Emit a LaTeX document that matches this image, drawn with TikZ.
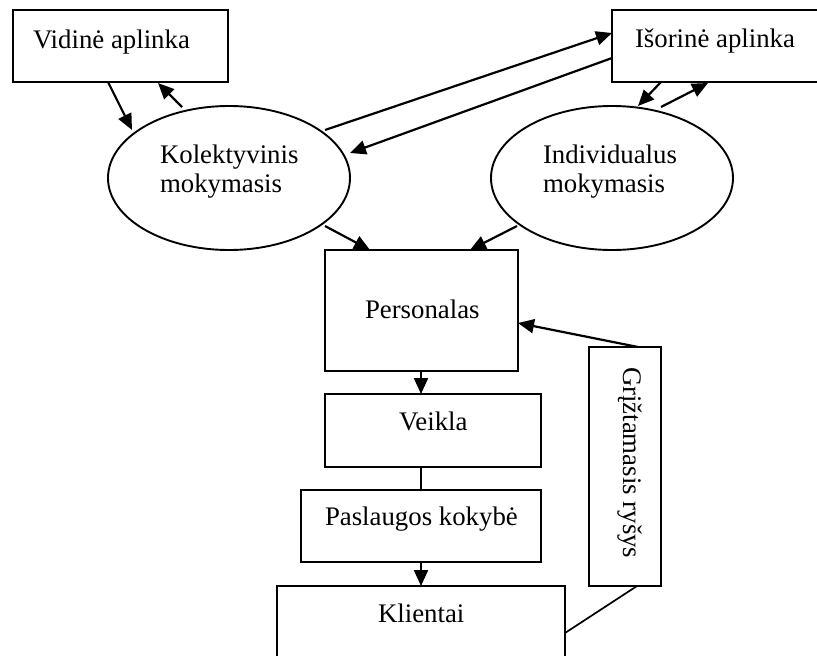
\documentclass[tikz,border=0pt]{standalone}
\usepackage{fontspec}
\setmainfont{Liberation Serif}
\usetikzlibrary{arrows.meta,shapes.geometric,calc}
\begin{document}
\begin{tikzpicture}[x=1pt,y=-1pt,
  every node/.style={inner sep=0pt,outer sep=0pt},
  box/.style={draw,line width=1.9pt,rectangle,minimum width=#1},
  oval/.style={draw,line width=1.9pt,ellipse,minimum width=242pt,minimum height=144pt},
  lbl/.style={font=\fontsize{26.8}{29}\selectfont,anchor=base west},
  flow/.style={line width=2.2pt,-{Triangle[length=16pt,width=14pt]}},
  link/.style={line width=1.7pt}]
\useasboundingbox (0,0) rectangle (817,656);
\clip (0,0) rectangle (817,656);
\fill[white] (0,0) rectangle (817,656);

% boxes and ellipses
\node[box=215pt,minimum height=72pt] (vid) at (120.5,46) {};
\node[box=250pt,minimum height=72pt] (isor) at (737,46) {};
\node[oval] (kol) at (229,178) {};
\node[oval] (ind) at (612,178) {};
\node[box=193pt,minimum height=121pt] (pers) at (421.5,310.5) {};
\node[box=216pt,minimum height=73pt] (veik) at (433,430.5) {};
\node[box=240pt,minimum height=72pt] (pasl) at (421,526) {};
\node[box=288pt,minimum height=114pt] (klie) at (421,643) {};
\node[box=72pt,minimum height=239pt] (grz) at (625,466.5) {};

% labels
\node[lbl] (vidT) at (33,48) {Vidinė aplinka};
\node[lbl] (isorT) at (635,47) {Išorinė aplinka};
\node[lbl] (kolT1) at (160,163) {Kolektyvinis};
\node[lbl] (kolT2) at (160,192) {mokymasis};
\node[lbl] (indT1) at (543,163) {Individualus};
\node[lbl] (indT2) at (543,192) {mokymasis};
\node[lbl] (persT) at (365,318) {Personalas};
\node[lbl] (veikT) at (399,430) {Veikla};
\node[lbl] (paslT) at (325,525) {Paslaugos kokybė};
\node[lbl] (klieT) at (378,622) {Klientai};
\node[lbl,rotate=-90] (grzT) at (623,367) {Grįžtamasis ryšys};

% connectors
\draw[flow] ($(vid.south west)+(95,0)$) -- ($(kol.center)+(-97,-48)$);
\draw[flow] ($(kol.center)+(-47,-71)$) -- ($(vid.south west)+(145,1)$);
\draw[flow] ($(kol.center)+(96,-48)$) -- ($(isor.north west)+(0,23)$);
\draw[flow] ($(isor.north west)+(0,48)$) -- ($(kol.center)+(121,-25)$);
\draw[flow] ($(isor.south west)+(49,0)$) -- ($(ind.center)+(26,-72)$);
\draw[flow] ($(ind.center)+(49,-71)$) -- ($(isor.south west)+(96,1)$);
\draw[flow] ($(kol.center)+(96,48)$) -- ($(pers.north west)+(45,0)$);
\draw[flow] ($(ind.center)+(-95,48)$) -- ($(pers.north west)+(145,0)$);
\draw[flow] ($(pers.south west)+(96,0)$) -- ($(veik.north west)+(96,0)$);
\draw[link] (veik.south -| pasl.north) -- (pasl.north);
\draw[flow] (pasl.south) -- (klie.north);
\draw[flow] ($(grz.north west)+(49,0)$) -- ($(pers.north east)+(0,73)$);
\draw[link] ($(klie.north east)+(0,47)$) -- ($(grz.south west)+(48,0)$);
\end{tikzpicture}
\end{document}
